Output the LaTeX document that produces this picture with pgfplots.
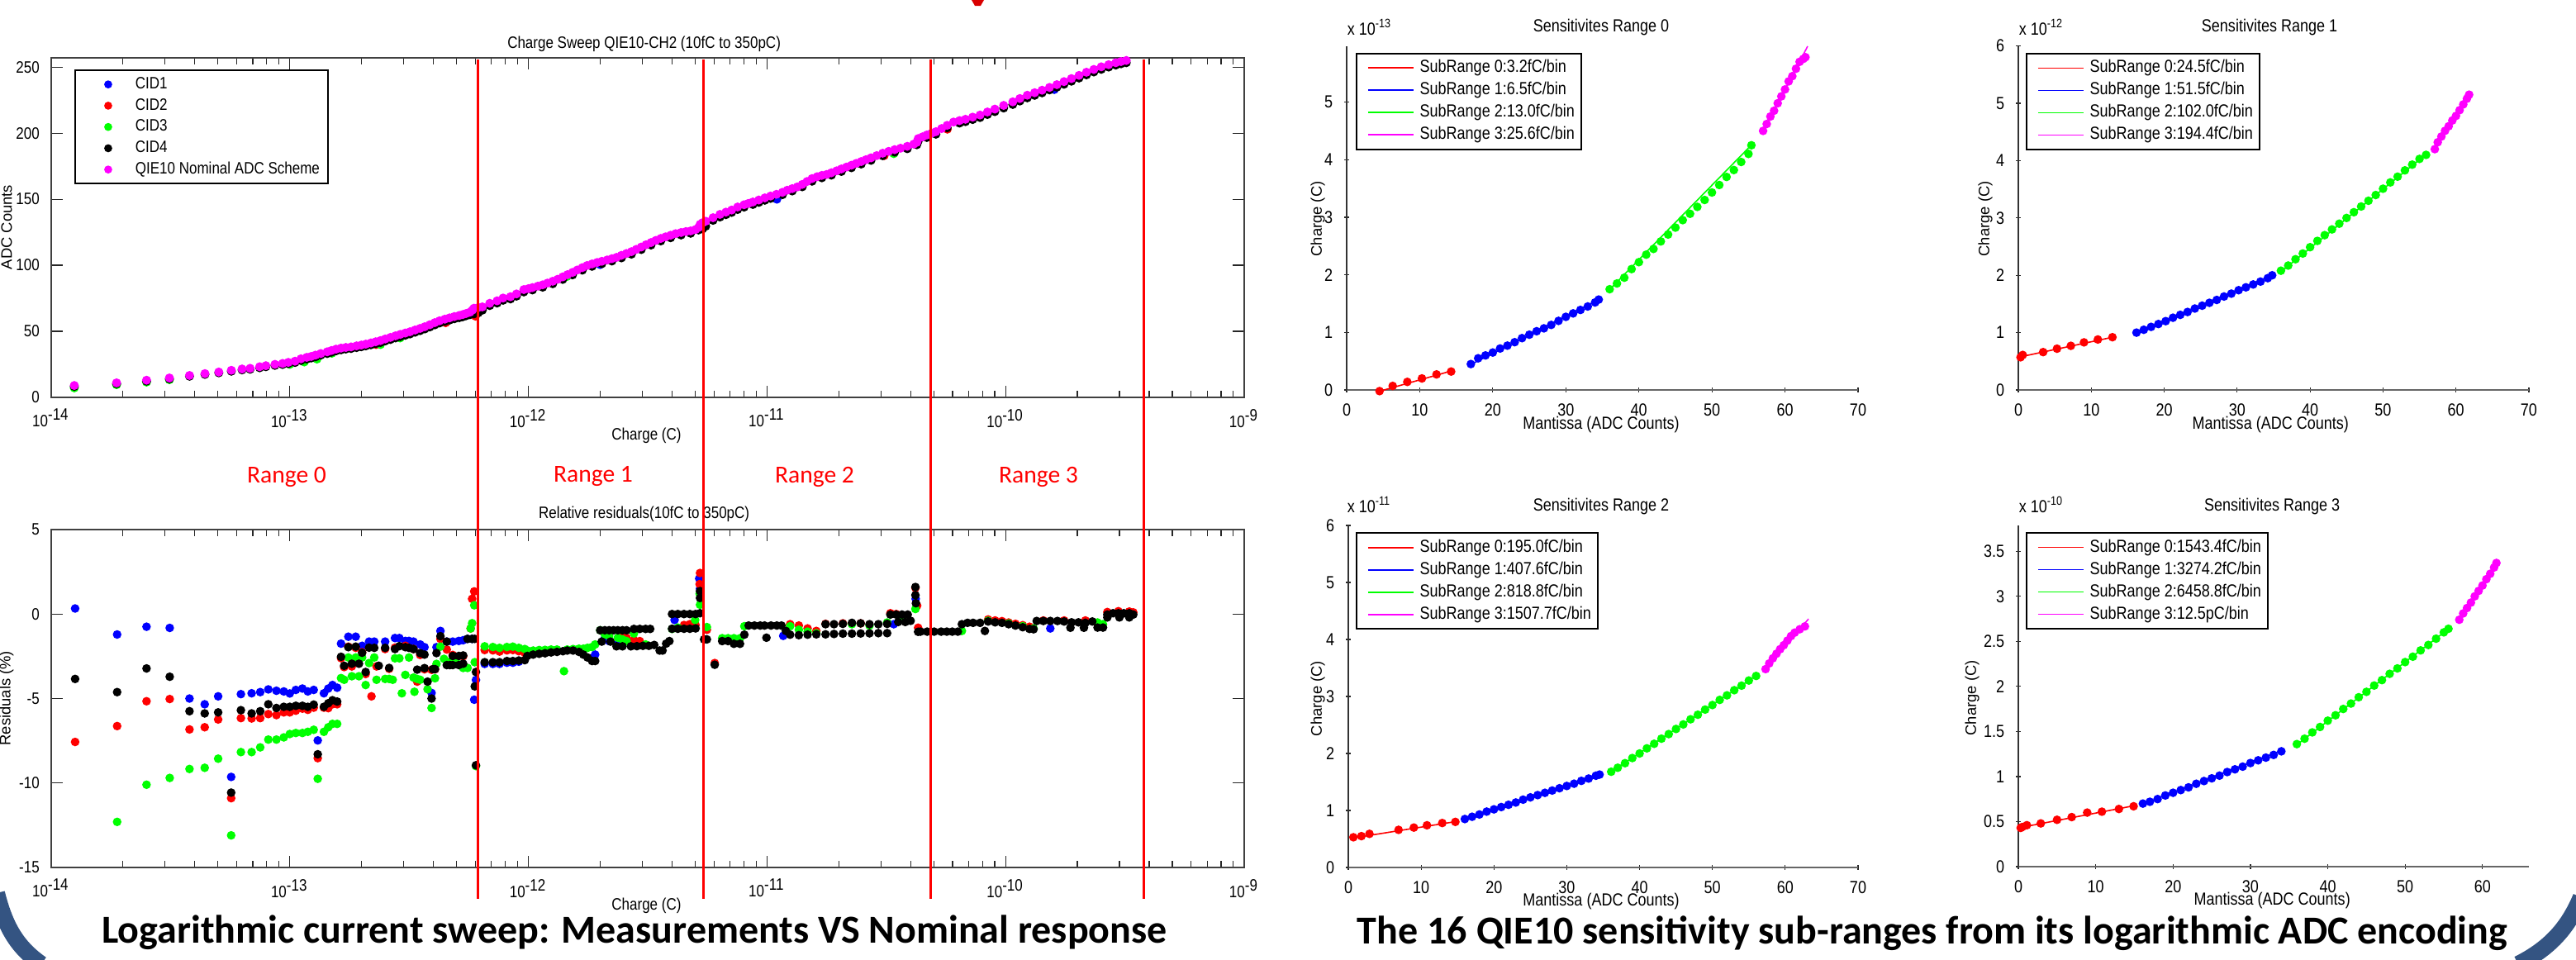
\documentclass[border=0pt]{standalone}
\usepackage{fontspec}
\setmainfont{Liberation Sans}
\newfontfamily\mfont[FakeStretch=0.85]{Liberation Sans}
\newfontfamily\capfont{Carlito}
\usepackage{pgfplots}
\pgfplotsset{compat=1.18}
\pgfkeys{/pgf/number format/assume math mode=true}
\definecolor{slide}{RGB}{52,84,130}
\definecolor{mag}{RGB}{255,0,255}
\definecolor{grn}{RGB}{0,255,0}
\newcommand{\mf}{\mfont\fontsize{5}{6}\selectfont}
\newcommand{\smf}{\mfont\fontsize{5.3}{6.3}\selectfont}
\newcommand{\ylf}{\normalfont\fontsize{4.6}{5.5}\selectfont}

\pgfplotsset{
  matax/.style={
    scale only axis, clip=false,
    every axis title shift=0pt,
    tick align=inside,
    tick style={black!85, line width=0.3pt},
    tick label style={font=\mf},
    title style={font=\mf, anchor=center},
    xlabel style={font=\mf, anchor=center},
    ylabel style={font=\ylf, anchor=center},
  },
  logax/.style={matax,
    width=361pt, xmin=1e-14, xmax=1e-9,
    xtick={1e-14,1e-13,1e-12,1e-11,1e-10,1e-9},
    xticklabels={10\textsuperscript{-14},10\textsuperscript{-13},10\textsuperscript{-12},10\textsuperscript{-11},10\textsuperscript{-10},10\textsuperscript{-9}},
    minor xtick={2e-14,3e-14,4e-14,5e-14,6e-14,7e-14,8e-14,9e-14,
                 2e-13,3e-13,4e-13,5e-13,6e-13,7e-13,8e-13,9e-13,
                 2e-12,3e-12,4e-12,5e-12,6e-12,7e-12,8e-12,9e-12,
                 2e-11,3e-11,4e-11,5e-11,6e-11,7e-11,8e-11,9e-11,
                 2e-10,3e-10,4e-10,5e-10,6e-10,7e-10,8e-10,9e-10},
    major tick length=3.6pt, minor tick length=1.9pt,
    axis line style={black!75, line width=0.5pt},
    xlabel={Charge (C)},
  },
  subax/.style={matax,
    axis lines=left, axis line style={-},
    x axis line style={black!60, line width=0.7pt},
    y axis line style={black!80, line width=0.35pt},
    major tick length=1.4pt,
    tick label style={font=\smf},
    title style={font=\smf},
    xlabel style={font=\smf},
    xmin=0,
    xlabel={Mantissa (ADC Counts)}, ylabel={Charge (C)},
    legend cell align=left,
    legend style={anchor=north west, draw=black, line width=0.5pt, fill=white,
      inner xsep=2pt, inner ysep=1.9pt, row sep=1.85pt,
      nodes={inner sep=0pt, text height=3.8pt, text depth=1.1pt, font=\smf}},
    legend image code/.code={\path (0pt,0pt) (16.75pt,0pt); \draw[##1] (1.25pt,0pt) -- (15pt,0pt);},
  },
  fitl/.style={no marks, line width=0.4pt},
  pts/.style={only marks, mark=*, mark size=1.1pt, forget plot},
}

\begin{document}
\begin{tikzpicture}
\useasboundingbox (0pt,0pt) rectangle (779.5pt,290.25pt);

% ---------- charge sweep ----------
\begin{axis}[xmode=log, logax, at={(15.5pt,170pt)}, anchor=south west, height=102.75pt,
    ymin=0, ymax=257, ytick={0,50,100,150,200,250},
    title={Charge Sweep QIE10-CH2 (10fC to 350pC)},
    title style={at={(0.497,1.041)}},
    xlabel style={at={(0.499,-0.112)}},
    ylabel={ADC Counts}, ylabel style={at={(-0.0374,0.501)}},
    mark size=1.15pt,
    legend cell align=left,
    legend style={at={(0.0194,0.966)}, anchor=north west, draw=black, line width=0.5pt,
      inner xsep=2.5pt, inner ysep=2pt, row sep=1.84pt,
      nodes={inner sep=0pt, text height=3.6pt, text depth=1pt, font=\mf}},
    legend image code/.code={\path (0pt,0pt) (15.25pt,0pt); \draw[#1, mark size=0.95pt] plot coordinates {(7.25pt,0pt)};},
  ]
\addplot[only marks, mark=*, blue] coordinates {
 (2.0e-12,100.5) (1.1e-11,150) (1.6e-10,233)};
\addplot[only marks, mark=*, red] coordinates {
 (2.3e-13,40) (4.5e-13,56.5) (6e-13,61.5) (3.1e-11,183) (5.7e-11,203)};
\addplot[only marks, mark=*, grn] coordinates {
 (1.25e-14,7.2) (1.88e-14,9.6) (2.51e-14,11.6) (3.13e-14,13.4) (1.0e-13,25) (1.15e-13,26.8)
 (1.3e-13,29) (1.5e-13,33.4) (2.4e-13,40) (2.9e-13,45) (1.45e-12,91.5) (3.4e-11,184.5)};
\addplot[only marks, mark=*, black] coordinates {
 (1.25e-14,8.3) (1.88e-14,10.4) (2.51e-14,12.3) (3.13e-14,14) (3.80e-14,16) (4.41e-14,17.4)
 (5.04e-14,18.6) (5.69e-14,19.8) (6.31e-14,20.8) (6.82e-14,21.3) (7.48e-14,22.4) (7.94e-14,23.2)
 (8.67e-14,24.2) (9.33e-14,24.9) (9.86e-14,25.6) (1.052e-13,26.4) (1.114e-13,27.9) (1.178e-13,29)
 (1.23e-13,29.8) (1.282e-13,30.7) (1.349e-13,32) (1.435e-13,33.2) (1.496e-13,34.2) (1.563e-13,35.2)
 (1.641e-13,36) (1.718e-13,36.6) (1.807e-13,37) (1.905e-13,37.7) (1.995e-13,38.3) (2.084e-13,39)
 (2.188e-13,39.8) (2.291e-13,40.7) (2.399e-13,41.5) (2.512e-13,42.7) (2.642e-13,43.8) (2.773e-13,45)
 (2.904e-13,46) (3.048e-13,47) (3.192e-13,48) (3.35e-13,49.3) (3.516e-13,50.5) (3.681e-13,51.8)
 (3.864e-13,53.3) (4.055e-13,54.9) (4.246e-13,56.3) (4.467e-13,57.5) (4.677e-13,58.5) (4.898e-13,59.5)
 (5.129e-13,60.3) (5.309e-13,61) (5.483e-13,61.8) (5.689e-13,62.6) (5.916e-13,63.2) (6.166e-13,64)
 (6.412e-13,66) (6.887e-13,69.5) (7.396e-13,71.4) (7.834e-13,73.5) (8.414e-13,74.5) (8.913e-13,76.6)
 (9.572e-13,79.8) (1.04e-12,81.3) (1.148e-12,83.4) (1.265e-12,86) (1.393e-12,89.3) (1.531e-12,92.7)
 (1.683e-12,96.3) (1.849e-12,99.2) (2.032e-12,101.2) (2.239e-12,103.2) (2.455e-12,105.6) (2.704e-12,108.4)
 (2.972e-12,111.9) (3.266e-12,115.3) (3.589e-12,118.4) (3.945e-12,120.8) (4.365e-12,122.9) (4.786e-12,124.2)
 (5.164e-12,126.7) (5.37e-12,127.5) (5.534e-12,129.5) (5.943e-12,134) (6.353e-12,136.5) (6.730e-12,138.3)
 (7.112e-12,140) (7.534e-12,142.2) (8.017e-12,144) (8.73e-12,146) (9.247e-12,147.6) (9.795e-12,149.2)
 (1.035e-11,150.6) (1.161e-11,153.4) (1.276e-11,156.2) (1.406e-11,159.4) (1.545e-11,163.6) (1.698e-11,166.2)
 (1.862e-11,168.2) (2.051e-11,171) (2.259e-11,173.8) (2.483e-11,176.6) (2.729e-11,179.4) (3.055e-11,182.9)
 (3.428e-11,185.6) (3.873e-11,188.2) (4.246e-11,191.2) (4.305e-11,194) (4.677e-11,196.7) (5.105e-11,199.2)
 (5.689e-11,204) (6.412e-11,207.6) (6.792e-11,208.7) (7.278e-11,210.3) (7.816e-11,211.8) (8.395e-11,214.1)
 (9.016e-11,216.3) (9.817e-11,219) (1.072e-10,221.7) (1.148e-10,224.3) (1.233e-10,226.7) (1.324e-10,228.6)
 (1.422e-10,230.5) (1.528e-10,232.7) (1.641e-10,234.8) (1.758e-10,237) (1.888e-10,239.3) (2.032e-10,241.7)
 (2.183e-10,244.1) (2.344e-10,246.3) (2.518e-10,248.3) (2.704e-10,250) (2.897e-10,251.5) (3.048e-10,252.5)
 (3.206e-10,253.3)};
\addplot[only marks, mark=*, mag] coordinates {
 (1.25e-14,9) (1.88e-14,11) (2.51e-14,13) (3.13e-14,14.7) (3.80e-14,16.6) (4.41e-14,18)
 (5.04e-14,19.2) (5.69e-14,20.5) (6.31e-14,21.5) (6.82e-14,22) (7.48e-14,23.2) (7.94e-14,24)
 (8.67e-14,25) (9.33e-14,25.7) (9.86e-14,26.5) (1.052e-13,27.4) (1.114e-13,29.2) (1.178e-13,30.3)
 (1.23e-13,31) (1.282e-13,32) (1.349e-13,33.2) (1.435e-13,34.5) (1.496e-13,35.5) (1.563e-13,36.5)
 (1.641e-13,37.3) (1.718e-13,37.8) (1.807e-13,38.2) (1.905e-13,39) (1.995e-13,39.6) (2.084e-13,40.3)
 (2.188e-13,41.2) (2.291e-13,42.1) (2.399e-13,43) (2.512e-13,44.2) (2.642e-13,45.4) (2.773e-13,46.6)
 (2.904e-13,47.7) (3.048e-13,48.7) (3.192e-13,49.7) (3.35e-13,51) (3.516e-13,52.2) (3.681e-13,53.5)
 (3.864e-13,55) (4.055e-13,56.6) (4.246e-13,58) (4.467e-13,59.2) (4.677e-13,60.2) (4.898e-13,61.2)
 (5.129e-13,62) (5.309e-13,62.7) (5.483e-13,63.5) (5.689e-13,64.5) (5.821e-13,66) (5.916e-13,67.5)
 (6.166e-13,68) (6.412e-13,68.5) (6.887e-13,71.2) (7.396e-13,73.1) (7.834e-13,75.2) (8.414e-13,76.2)
 (8.913e-13,78.3) (9.572e-13,81.6) (1.0e-12,82.3) (1.04e-12,83.1) (1.096e-12,84.2) (1.148e-12,85.2)
 (1.202e-12,86.5) (1.265e-12,87.9) (1.327e-12,89.4) (1.393e-12,91.2) (1.459e-12,92.9) (1.531e-12,94.6)
 (1.603e-12,96.4) (1.683e-12,98.2) (1.762e-12,99.8) (1.849e-12,101) (1.941e-12,102.1) (2.032e-12,103)
 (2.138e-12,104) (2.239e-12,105) (2.344e-12,106) (2.455e-12,107.5) (2.576e-12,108.9) (2.704e-12,110.3)
 (2.831e-12,112) (2.972e-12,113.8) (3.112e-12,115.5) (3.266e-12,117.2) (3.42e-12,118.8) (3.589e-12,120.3)
 (3.758e-12,121.5) (3.945e-12,122.7) (4.14e-12,123.9) (4.365e-12,124.8) (4.571e-12,125.5) (4.786e-12,126)
 (5.012e-12,127) (5.164e-12,128.5) (5.248e-12,131) (5.37e-12,132.2) (5.534e-12,133.3) (5.943e-12,136)
 (6.353e-12,138.5) (6.730e-12,140.2) (7.112e-12,141.8) (7.534e-12,144.1) (8.017e-12,145.8) (8.356e-12,146.8)
 (8.73e-12,147.9) (9.247e-12,149.4) (9.795e-12,151) (1.035e-11,152.4) (1.096e-11,153.7) (1.161e-11,155.2)
 (1.216e-11,156.8) (1.276e-11,158) (1.34e-11,159.3) (1.406e-11,161.2) (1.472e-11,163.4) (1.545e-11,165.6)
 (1.622e-11,167) (1.698e-11,168) (1.778e-11,168.7) (1.862e-11,170) (1.959e-11,171.5) (2.051e-11,172.9)
 (2.153e-11,174.3) (2.259e-11,175.7) (2.366e-11,177.1) (2.483e-11,178.5) (2.6e-11,179.9) (2.729e-11,181.3)
 (2.884e-11,183) (3.055e-11,184.8) (3.236e-11,186.2) (3.428e-11,187.5) (3.631e-11,188.6) (3.873e-11,190)
 (4.121e-11,191.7) (4.246e-11,193) (4.305e-11,195.9) (4.487e-11,197.2) (4.677e-11,198.6) (4.898e-11,199.9)
 (5.105e-11,201.1) (5.395e-11,203.5) (5.689e-11,205.9) (6.053e-11,208.4) (6.412e-11,209.5) (6.792e-11,210.5)
 (7.278e-11,212.1) (7.816e-11,213.7) (8.395e-11,216) (9.016e-11,218.2) (9.817e-11,221) (1.072e-10,223.7)
 (1.148e-10,226.2) (1.233e-10,228.7) (1.324e-10,230.6) (1.422e-10,232.5) (1.528e-10,234.6) (1.641e-10,236.7)
 (1.758e-10,239) (1.888e-10,241.3) (2.032e-10,243.7) (2.183e-10,246.1) (2.344e-10,248.2) (2.518e-10,250.2)
 (2.704e-10,251.8) (2.897e-10,253.3) (3.048e-10,254.2) (3.206e-10,255)};
\legend{CID1,CID2,CID3,CID4,QIE10 Nominal ADC Scheme}
\end{axis}

% ---------- residuals ----------
\begin{axis}[xmode=log, logax, at={(15.5pt,27.75pt)}, anchor=south west, height=102.25pt,
    ymin=-15, ymax=5, ytick={-15,-10,-5,0,5}, yticklabels={-15,-10,-5,0,5},
    title={Relative residuals(10fC to 350pC)},
    title style={at={(0.497,1.0465)}},
    xlabel style={at={(0.499,-0.1125)}},
    ylabel={Residuals (\%)}, ylabel style={at={(-0.0374,0.501)}},
    mark size=1.1pt,
  ]
% CID1
\addplot[only marks, mark=*, blue] coordinates {
 (1.26e-14,0.33) (1.89e-14,-1.21) (2.51e-14,-0.75) (3.14e-14,-0.82) (3.80e-14,-5.0) (4.40e-14,-5.34)
 (5.01e-14,-4.87) (5.68e-14,-9.64) (6.24e-14,-4.74) (6.92e-14,-4.69) (7.52e-14,-4.62) (8.13e-14,-4.46)
 (8.79e-14,-4.54) (9.44e-14,-4.58) (1.0e-13,-4.7) (1.06e-13,-4.49) (1.13e-13,-4.41) (1.19e-13,-4.58)
 (1.26e-13,-4.49) (1.31e-13,-7.48) (1.39e-13,-4.69) (1.45e-13,-4.41) (1.51e-13,-4.2) (1.58e-13,-4.36)
 (1.64e-13,-1.75) (1.76e-13,-1.34) (1.89e-13,-1.34) (2.01e-13,-1.88) (2.15e-13,-1.63) (2.26e-13,-1.63)
 (2.51e-13,-1.63) (2.76e-13,-1.42) (2.88e-13,-1.42) (3.05e-13,-1.59) (3.16e-13,-1.59) (3.30e-13,-1.63)
 (3.52e-13,-1.8) (3.67e-13,-1.96) (3.93e-13,-4.67) (4.12e-13,-1.96) (4.28e-13,-1.0) (4.55e-13,-1.63)
 (4.82e-13,-1.63) (5.11e-13,-1.59) (5.33e-13,-1.55) (5.56e-13,-1.47) (5.81e-13,-1.47) (5.93e-13,-5.07)
 (6.03e-13,-3.9)
 (6.56e-13,-2.95) (7.10e-13,-2.95) (7.57e-13,-2.95) (8.13e-13,-2.88) (8.61e-13,-2.88) (9.12e-13,-2.82)
 (1.85e-12,-2.6) (1.905e-12,-2.4) (2.09e-12,-1.43) (2.18e-12,-1.6) (2.37e-12,-1.8) (4.1e-12,-0.35)
 (5.2e-12,2.1) (5.24e-12,1.5) (1.17e-11,-1.29) (3.4e-11,-0.6) (4.2e-11,0.9) (1.54e-10,-0.85)};
% CID2
\addplot[only marks, mark=*, red] coordinates {
 (1.26e-14,-7.57) (1.89e-14,-6.63) (2.51e-14,-5.16) (3.14e-14,-5.03) (3.80e-14,-6.83) (4.40e-14,-6.7)
 (5.01e-14,-6.24) (5.68e-14,-10.9) (6.24e-14,-6.16) (6.92e-14,-6.18) (7.52e-14,-6.16) (8.13e-14,-5.92)
 (8.79e-14,-5.98) (9.44e-14,-5.82) (1.0e-13,-5.82) (1.06e-13,-5.72) (1.13e-13,-5.6) (1.19e-13,-5.67)
 (1.26e-13,-5.54) (1.31e-13,-8.53) (1.39e-13,-5.54) (1.45e-13,-5.57) (1.51e-13,-5.34) (1.58e-13,-5.34)
 (1.64e-13,-2.61) (1.69e-13,-3.14) (1.76e-13,-1.93) (1.82e-13,-3.1) (1.89e-13,-2.0) (2.01e-13,-2.26)
 (2.08e-13,-3.55) (2.20e-13,-4.87) (2.31e-13,-3.1) (2.51e-13,-2.07) (2.61e-13,-3.24) (2.76e-13,-1.99)
 (3.05e-13,-1.88) (3.30e-13,-2.07) (3.42e-13,-4.0) (3.52e-13,-2.42) (3.67e-13,-3.27) (3.93e-13,-3.3)
 (4.06e-13,-3.27) (4.28e-13,-1.47) (4.55e-13,-2.1) (4.82e-13,-2.42) (5.33e-13,-2.5) (5.73e-13,-0.85)
 (5.81e-13,0.9) (5.93e-13,1.34)
 (6.56e-13,-2.13) (7.10e-13,-2.15) (7.57e-13,-2.22) (8.13e-13,-2.15) (8.61e-13,-2.13) (9.12e-13,-2.2)
 (9.66e-13,-2.3) (1.05e-12,-2.3) (2.48e-12,-1.17) (2.58e-12,-1.4) (2.77e-12,-1.55) (2.93e-12,-1.6)
 (4.49e-12,-0.65) (4.75e-12,-0.6) (5.02e-12,-0.65) (5.24e-12,2.43) (5.22e-12,1.77)
 (5.6e-12,-0.93) (6.04e-12,-2.9) (1.25e-11,-0.6) (1.36e-11,-0.68) (1.48e-11,-0.85) (1.61e-11,-1.0)
 (1.76e-11,-0.58) (2.08e-11,-0.55) (2.47e-11,-0.55) (3.29e-11,0.05) (3.48e-11,0.0) (4.19e-11,1.55)
 (4.26e-11,0.5) (4.3e-11,-0.81)
 (8.45e-11,-0.32) (9.04e-11,-0.38) (9.66e-11,-0.42) (1.03e-10,-0.5) (1.10e-10,-0.58) (1.18e-10,-0.66)
 (1.26e-10,-0.75) (1.44e-10,-0.38) (1.76e-10,-0.38) (2.16e-10,-0.38) (2.43e-10,-0.6) (2.67e-10,0.12)
 (2.97e-10,0.17) (3.30e-10,0.15) (3.43e-10,0.1)};
% CID3
\addplot[only marks, mark=*, grn] coordinates {
 (1.89e-14,-12.3) (2.51e-14,-10.1) (3.14e-14,-9.7) (3.80e-14,-9.17) (4.40e-14,-9.1) (5.01e-14,-8.56)
 (5.68e-14,-13.1) (6.24e-14,-8.17) (6.92e-14,-8.17) (7.52e-14,-7.89) (8.13e-14,-7.43) (8.79e-14,-7.43)
 (9.44e-14,-7.3) (1.0e-13,-7.1) (1.06e-13,-7.04) (1.13e-13,-7.04) (1.19e-13,-6.97) (1.26e-13,-6.85)
 (1.31e-13,-9.75) (1.39e-13,-6.97) (1.45e-13,-6.7) (1.51e-13,-6.5) (1.58e-13,-6.5) (1.64e-13,-3.79)
 (1.69e-13,-3.89) (1.76e-13,-2.57) (1.82e-13,-3.68) (1.89e-13,-2.57) (1.95e-13,-3.68) (2.01e-13,-2.57)
 (2.08e-13,-4.2) (2.15e-13,-2.9) (2.26e-13,-2.57) (2.31e-13,-3.89) (2.51e-13,-3.84) (2.61e-13,-3.84)
 (2.70e-13,-3.89) (2.76e-13,-2.62) (2.88e-13,-2.62) (2.95e-13,-4.69) (3.05e-13,-3.6) (3.16e-13,-2.57)
 (3.30e-13,-3.76) (3.33e-13,-4.6) (3.42e-13,-3.84) (3.52e-13,-3.89) (3.78e-13,-4.45) (3.93e-13,-5.56)
 (4.06e-13,-3.8) (4.12e-13,-2.95) (4.28e-13,-1.93) (4.43e-13,-2.65) (4.69e-13,-2.82) (4.96e-13,-2.78)
 (5.33e-13,-3.19) (5.56e-13,-3.19) (5.73e-13,-0.85) (5.81e-13,-0.54) (5.93e-13,0.52) (5.96e-13,-2.85)
 (6.03e-13,-9.0)
 (6.56e-13,-1.91) (7.10e-13,-1.95) (7.57e-13,-2.0) (8.13e-13,-1.95) (8.61e-13,-1.93) (9.12e-13,-2.0)
 (9.66e-13,-2.07) (9.9e-13,-2.16) (1.047e-12,-2.16) (1.11e-12,-2.13) (1.175e-12,-2.12) (1.245e-12,-2.1)
 (1.318e-12,-2.1) (1.41e-12,-3.38) (1.455e-12,-2.1) (1.54e-12,-2.07) (1.63e-12,-2.05) (1.70e-12,-2.05)
 (1.77e-12,-2.0) (1.85e-12,-1.95) (1.905e-12,-1.8) (2.0e-12,-0.96) (2.09e-12,-1.2) (2.18e-12,-1.3)
 (2.37e-12,-1.4) (2.48e-12,-1.5) (2.58e-12,-1.6) (2.77e-12,-1.15) (3.1e-12,-1.8) (4.0e-12,-0.88)
 (4.23e-12,-0.8) (5.0e-12,-0.35) (5.24e-12,0.55) (5.22e-12,1.2)
 (5.6e-12,-0.77) (6.49e-12,-1.43) (6.87e-12,-1.43) (7.27e-12,-1.43) (7.71e-12,-1.43) (8.04e-12,-0.72)
 (1.25e-11,-0.72) (1.36e-11,-0.93) (1.48e-11,-1.04) (1.61e-11,-1.14) (2.27e-11,-0.6) (2.69e-11,-0.68)
 (3.19e-11,-0.5) (3.68e-11,-0.3) (4.19e-11,0.3)
 (6.56e-11,-1.0) (8.45e-11,-0.4) (1.03e-10,-0.56) (1.18e-10,-0.72) (1.31e-10,-0.85) (2.43e-10,-0.5)
 (2.56e-10,-0.6)};
% CID4
\addplot[only marks, mark=*, black] coordinates {
 (1.26e-14,-3.84) (1.89e-14,-4.62) (2.51e-14,-3.22) (3.14e-14,-3.71) (3.80e-14,-5.75) (4.40e-14,-5.88)
 (5.01e-14,-5.82) (5.68e-14,-10.57) (6.24e-14,-5.69) (6.92e-14,-5.88) (7.52e-14,-5.75) (8.13e-14,-5.34)
 (8.79e-14,-5.56) (9.44e-14,-5.49) (1.0e-13,-5.49) (1.06e-13,-5.43) (1.13e-13,-5.43) (1.19e-13,-5.49)
 (1.26e-13,-5.36) (1.31e-13,-8.3) (1.39e-13,-5.49) (1.45e-13,-5.28) (1.51e-13,-5.1) (1.58e-13,-5.18)
 (1.64e-13,-2.53) (1.69e-13,-3.06) (1.76e-13,-1.96) (1.82e-13,-2.94) (1.89e-13,-1.93) (1.95e-13,-2.94)
 (2.01e-13,-2.29) (2.08e-13,-3.43) (2.15e-13,-1.99) (2.26e-13,-2.0) (2.36e-13,-3.06) (2.51e-13,-2.0)
 (2.61e-13,-3.19) (2.76e-13,-2.07) (2.88e-13,-1.9) (3.05e-13,-1.96) (3.16e-13,-2.0) (3.30e-13,-2.07)
 (3.42e-13,-3.29) (3.52e-13,-2.31) (3.67e-13,-2.4) (3.67e-13,-3.2) (3.78e-13,-4.0) (3.93e-13,-5.0)
 (3.98e-13,-3.26) (4.06e-13,-3.26) (4.12e-13,-2.31) (4.28e-13,-1.31) (4.55e-13,-1.63) (4.55e-13,-3.02)
 (4.69e-13,-3.02) (4.82e-13,-3.02) (5.11e-13,-3.02) (5.33e-13,-2.94) (4.82e-13,-2.48) (5.11e-13,-2.48)
 (5.33e-13,-2.45) (5.56e-13,-1.47) (5.81e-13,-1.47) (5.96e-13,-1.47) (6.03e-13,-3.43) (5.96e-13,-4.28)
 (6.03e-13,-8.95)
 (6.56e-13,-2.85) (7.10e-13,-2.85) (7.57e-13,-2.85) (8.13e-13,-2.78) (8.61e-13,-2.78) (9.12e-13,-2.75)
 (9.66e-13,-2.73) (9.9e-13,-2.48) (1.047e-12,-2.40) (1.11e-12,-2.35) (1.175e-12,-2.32) (1.245e-12,-2.27)
 (1.318e-12,-2.24) (1.396e-12,-2.2) (1.455e-12,-2.16) (1.54e-12,-2.16) (1.63e-12,-2.24) (1.70e-12,-2.4)
 (1.77e-12,-2.57) (1.85e-12,-2.78) (1.905e-12,-2.78) (2.0e-12,-0.96) (2.09e-12,-0.96) (2.18e-12,-0.96)
 (2.275e-12,-0.96) (2.37e-12,-0.96) (2.48e-12,-0.96) (2.58e-12,-0.96) (2.77e-12,-0.88) (2.93e-12,-0.88)
 (3.10e-12,-0.88) (3.24e-12,-0.88) (2.03e-12,-1.63) (2.21e-12,-1.63) (2.34e-12,-1.91) (2.48e-12,-1.91)
 (2.69e-12,-1.91) (2.85e-12,-1.9) (3.02e-12,-1.88) (3.2e-12,-1.88) (3.37e-12,-1.83) (3.55e-12,-2.16)
 (3.65e-12,-2.16) (3.78e-12,-1.75) (3.90e-12,-1.6) (4.0e-12,0.0) (4.23e-12,0.0) (4.49e-12,0.0)
 (4.75e-12,0.0) (5.02e-12,0.0) (5.24e-12,0.05) (4.0e-12,-0.87) (4.23e-12,-0.87) (4.49e-12,-0.87)
 (4.75e-12,-0.87) (5.02e-12,-0.85) (5.24e-12,1.36) (5.24e-12,0.95)
 (5.45e-12,-1.5) (5.6e-12,-1.5) (6.04e-12,-3.0) (6.49e-12,-1.6) (6.87e-12,-1.6) (7.27e-12,-1.76)
 (7.71e-12,-1.76) (8.04e-12,-1.22) (8.38e-12,-0.68) (8.86e-12,-0.68) (9.37e-12,-0.68) (9.77e-12,-0.68)
 (9.95e-12,-1.4) (1.04e-11,-0.68) (1.10e-11,-0.68) (1.15e-11,-0.68) (1.2e-11,-1.0) (1.25e-11,-1.22)
 (1.36e-11,-1.25) (1.48e-11,-1.22) (1.61e-11,-1.2) (1.76e-11,-1.2) (1.91e-11,-1.18) (2.08e-11,-1.16)
 (2.27e-11,-1.16) (2.47e-11,-1.15) (2.69e-11,-1.14) (2.93e-11,-1.13) (3.19e-11,-1.13) (1.76e-11,-0.6)
 (1.91e-11,-0.6) (2.08e-11,-0.58) (2.27e-11,-0.52) (2.47e-11,-0.55) (2.69e-11,-0.6) (2.93e-11,-0.6)
 (3.19e-11,-0.58) (3.29e-11,-0.03) (3.48e-11,-0.03) (3.68e-11,-0.03) (3.89e-11,-0.03) (3.55e-11,-0.47)
 (3.8e-11,-0.47) (4.0e-11,-0.4) (4.19e-11,1.6) (4.19e-11,1.12) (4.21e-11,0.64) (4.3e-11,-1.05)
 (4.4e-11,-1.04) (4.69e-11,-1.04) (5.02e-11,-1.04) (5.37e-11,-1.04) (5.67e-11,-1.04) (5.98e-11,-1.04)
 (6.31e-11,-1.04) (6.56e-11,-0.6) (6.93e-11,-0.52) (7.31e-11,-0.52) (7.82e-11,-0.52) (8.19e-11,-1.0)
 (8.45e-11,-0.44) (9.04e-11,-0.49) (9.66e-11,-0.52) (1.03e-10,-0.6) (1.10e-10,-0.68) (1.18e-10,-0.78)
 (1.26e-10,-0.88) (1.31e-10,-0.9) (1.35e-10,-0.41) (1.44e-10,-0.41) (1.54e-10,-0.41) (1.65e-10,-0.41)
 (1.76e-10,-0.44) (1.89e-10,-0.49) (2.02e-10,-0.49) (2.16e-10,-0.52) (2.31e-10,-0.44) (2.43e-10,-0.8)
 (2.56e-10,-0.8) (1.87e-10,-0.81) (2.13e-10,-0.81) (2.67e-10,-0.03) (2.82e-10,0.05) (2.97e-10,0.05)
 (3.13e-10,0.05) (3.30e-10,0.05) (3.43e-10,-0.03) (2.67e-10,-0.2) (3.0e-10,-0.2) (3.3e-10,-0.2)};
\end{axis}

% ---------- sensitivities range 0 ----------
\begin{axis}[subax, at={(407.5pt,172.25pt)}, anchor=south west, width=154.75pt, height=104pt,
    xmax=70, xtick={0,10,...,70}, ymin=0, ymax=5.97, ytick={0,1,2,3,4,5},
    title={Sensitivites Range 0}, title style={at={(0.4976,1.0553)}},
    xlabel style={at={(0.4976,-0.101)}}, ylabel style={at={(-0.0565,0.4976)}},
    legend style={at={(0.0178,0.981)}},
  ]
\addplot[fitl, red] coordinates {(4.3,-0.03) (14.6,0.34)};
\addplot[fitl, blue] coordinates {(16.8,0.43) (34.7,1.58)};
\addplot[fitl, grn] coordinates {(35.8,1.72) (55.6,4.28)};
\addplot[fitl, mag] coordinates {(56.8,4.45) (63.1,5.97)};
\addplot[pts, red] coordinates {(4.5,-0.02) (6.3,0.07) (8.3,0.14) (10.3,0.2) (12.3,0.27) (14.3,0.32)};
\addplot[pts, blue] coordinates {(17,0.45) (18,0.55) (19,0.6) (20,0.65) (21,0.72) (22,0.77) (23,0.83)
 (24,0.9) (25,0.96) (26,1.02) (27,1.07) (28,1.13) (29,1.2) (30,1.27) (31,1.33) (32,1.39) (33,1.45)
 (34,1.52) (34.5,1.57)};
\addplot[pts, grn] coordinates {(36,1.75) (37,1.85) (38,1.95) (39,2.1) (40,2.22) (41,2.35) (42,2.45)
 (43,2.58) (44,2.7) (45,2.82) (46,2.95) (47,3.06) (48,3.18) (49,3.3) (50,3.43) (51,3.56) (52,3.7)
 (53,3.82) (54,3.96) (55,4.1) (55.4,4.25)};
\addplot[pts, mag] coordinates {(57,4.5) (57.5,4.62) (58,4.75) (58.5,4.85) (59,4.98) (59.5,5.1)
 (60,5.22) (60.5,5.36) (61,5.45) (61.5,5.58) (62,5.7) (62.5,5.75) (62.8,5.78)};
\legend{SubRange 0:3.2fC/bin,SubRange 1:6.5fC/bin,SubRange 2:13.0fC/bin,SubRange 3:25.6fC/bin}
\end{axis}

% ---------- sensitivities range 1 ----------
\begin{axis}[subax, at={(610.75pt,172.25pt)}, anchor=south west, width=154.5pt, height=104.1pt,
    xmax=70, xtick={0,10,...,70}, ymin=0, ymax=6, ytick={0,1,2,3,4,5,6},
    title={Sensitivites Range 1}, title style={at={(0.492,1.0553)}},
    xlabel style={at={(0.494,-0.101)}}, ylabel style={at={(-0.0647,0.4976)}},
    legend style={at={(0.0146,0.98)}},
  ]
\addplot[fitl, red] coordinates {(0,0.57) (13.3,0.93)};
\addplot[fitl, blue] coordinates {(16,0.98) (35,2.01)};
\addplot[fitl, grn] coordinates {(35.9,2.05) (56,4.12)};
\addplot[fitl, mag] coordinates {(57,4.17) (62.2,5.2)};
\addplot[pts, red] coordinates {(0.3,0.57) (0.6,0.61) (3.4,0.66) (5.3,0.72) (7.2,0.77) (9,0.83) (10.9,0.88) (12.9,0.92)};
\addplot[pts, blue] coordinates {(16.2,1.0) (17.2,1.05) (18.2,1.1) (19.2,1.15) (20.2,1.2) (21.2,1.26)
 (22.2,1.31) (23.2,1.36) (24.2,1.42) (25.2,1.47) (26.2,1.52) (27.2,1.57) (28.2,1.63) (29.2,1.68)
 (30.2,1.74) (31.2,1.79) (32.2,1.84) (33.2,1.89) (34.2,1.95) (34.8,2.0)};
\addplot[pts, grn] coordinates {(36,2.08) (37,2.17) (38,2.28) (39,2.38) (40,2.49) (41,2.6) (42,2.7)
 (43,2.8) (44,2.9) (45,3.0) (46,3.1) (47,3.2) (48,3.3) (49,3.4) (50,3.51) (51,3.62) (52,3.72) (53,3.83)
 (54,3.93) (55,4.03) (55.9,4.1)};
\addplot[pts, mag] coordinates {(57.1,4.2) (57.5,4.32) (58,4.42) (58.5,4.52) (59,4.6) (59.5,4.7)
 (60,4.78) (60.5,4.88) (61,4.98) (61.5,5.08) (61.8,5.15)};
\legend{SubRange 0:24.5fC/bin,SubRange 1:51.5fC/bin,SubRange 2:102.0fC/bin,SubRange 3:194.4fC/bin}
\end{axis}

% ---------- sensitivities range 2 ----------
\begin{axis}[subax, at={(408pt,27.75pt)}, anchor=south west, width=154.25pt, height=103.5pt,
    xmax=70, xtick={0,10,...,70}, ymin=0, ymax=6, ytick={0,1,2,3,4,5,6},
    title={Sensitivites Range 2}, title style={at={(0.496,1.0546)}},
    xlabel style={at={(0.496,-0.1)}}, ylabel style={at={(-0.06,0.494)}},
    legend style={at={(0.0146,0.98)}},
  ]
\addplot[fitl, red] coordinates {(0.3,0.51) (15,0.81)};
\addplot[fitl, blue] coordinates {(15.8,0.84) (34.7,1.64)};
\addplot[fitl, grn] coordinates {(35.9,1.66) (56.3,3.39)};
\addplot[fitl, mag] coordinates {(57,3.44) (63.2,4.36)};
\addplot[pts, red] coordinates {(0.7,0.53) (1.8,0.55) (2.9,0.59) (6.9,0.66) (9,0.7) (10.8,0.74) (12.9,0.78) (14.7,0.8)};
\addplot[pts, blue] coordinates {(16,0.85) (17,0.89) (18,0.93) (19,0.98) (20,1.02) (21,1.06) (22,1.1)
 (23,1.14) (24,1.19) (25,1.23) (26,1.27) (27,1.31) (28,1.35) (29,1.39) (30,1.43) (31,1.47) (32,1.52)
 (33,1.56) (34,1.61) (34.5,1.63)};
\addplot[pts, grn] coordinates {(36.1,1.68) (37,1.75) (38,1.83) (39,1.92) (40,2.0) (41,2.09) (42,2.17)
 (43,2.26) (44,2.34) (45,2.43) (46,2.51) (47,2.6) (48,2.68) (49,2.77) (50,2.85) (51,2.94) (52,3.02)
 (53,3.11) (54,3.19) (55,3.28) (56,3.36)};
\addplot[pts, mag] coordinates {(57.3,3.48) (57.8,3.58) (58.3,3.67) (58.8,3.75) (59.3,3.83) (59.8,3.9)
 (60.3,3.98) (60.8,4.06) (61.3,4.12) (62,4.18) (62.7,4.23)};
\legend{SubRange 0:195.0fC/bin,SubRange 1:407.6fC/bin,SubRange 2:818.8fC/bin,SubRange 3:1507.7fC/bin}
\end{axis}

% ---------- sensitivities range 3 ----------
\begin{axis}[subax, at={(610.75pt,28pt)}, anchor=south west, width=154.5pt, height=103.35pt,
    xmax=66, xtick={0,10,...,60}, ymin=0, ymax=3.79, ytick={0,0.5,...,3.5},
    title={Sensitivites Range 3}, title style={at={(0.497,1.0545)}},
    xlabel style={at={(0.497,-0.1)}}, ylabel style={at={(-0.0906,0.494)}},
    legend style={at={(0.0146,0.979)}},
  ]
\addplot[fitl, red] coordinates {(0,0.43) (15.2,0.68)};
\addplot[fitl, blue] coordinates {(16,0.69) (34.4,1.3)};
\addplot[fitl, grn] coordinates {(35.8,1.34) (55.8,2.65)};
\addplot[fitl, mag] coordinates {(56.8,2.72) (62,3.4)};
\addplot[pts, red] coordinates {(0.3,0.43) (0.5,0.44) (1.1,0.46) (2.9,0.48) (5,0.52) (6.9,0.55) (8.9,0.6)
 (10.8,0.61) (13,0.64) (14.9,0.67)};
\addplot[pts, blue] coordinates {(16.1,0.7) (17,0.72) (18,0.75) (19,0.79) (20,0.82) (21,0.85) (22,0.88)
 (23,0.92) (24,0.95) (25,0.98) (26,1.01) (27,1.05) (28,1.08) (29,1.11) (30,1.15) (31,1.18) (32,1.21)
 (33,1.24) (34,1.28)};
\addplot[pts, grn] coordinates {(36,1.36) (37,1.42) (38,1.49) (39,1.55) (40,1.62) (41,1.68) (42,1.75)
 (43,1.81) (44,1.88) (45,1.94) (46,2.01) (47,2.07) (48,2.14) (49,2.2) (50,2.27) (51,2.33) (52,2.4)
 (53,2.46) (54,2.53) (55,2.6) (55.6,2.64)};
\addplot[pts, mag] coordinates {(57,2.74) (57.5,2.81) (58,2.87) (58.5,2.93) (59,3.0) (59.5,3.06)
 (60,3.12) (60.5,3.19) (61,3.25) (61.5,3.32) (61.8,3.37)};
\legend{SubRange 0:1543.4fC/bin,SubRange 1:3274.2fC/bin,SubRange 2:6458.8fC/bin,SubRange 3:12.5pC/bin}
\end{axis}

% ---------- annotations ----------
\begin{scope}[x=0.25pt,y=0.25pt]
\foreach \xx in {578,851,1126,1384}
  \draw[red, line width=0.75pt] (\xx,1089) -- (\xx,73);
\foreach \xx/\lab in {347/Range 0,718/Range 1,986/Range 2,1257/Range 3}
  \node[red, font=\capfont\fontsize{7.4}{9}\selectfont] at (\xx,584) {\lab};
\foreach \xx/\yy/\ee in {1630/1119/-13,2443/1119/-12,1630/541/-11,2443/541/-10}
  \node[anchor=base west, inner sep=0pt, font=\smf] at (\xx,\yy) {x 10\textsuperscript{\ee}};
\node[font=\capfont\bfseries\fontsize{12}{14}\selectfont] at (768,32)
  {Logarithmic current sweep: Measurements VS Nominal response};
\node[font=\capfont\bfseries\fontsize{12}{14}\selectfont] at (2339,31)
  {The 16 QIE10 sensitivity sub-ranges from its logarithmic ADC encoding};
\draw[slide, line width=5pt] (-4,80) .. controls (6,40) and (20,15) .. (50,-6);
\draw[slide, line width=5pt] (3124,75) .. controls (3110,42) and (3090,15) .. (3048,-6);
\fill[red!85!black] (1176,1161) -- (1191,1161) -- (1187,1154) -- (1180,1154) -- cycle;
\end{scope}
\end{tikzpicture}
\end{document}
